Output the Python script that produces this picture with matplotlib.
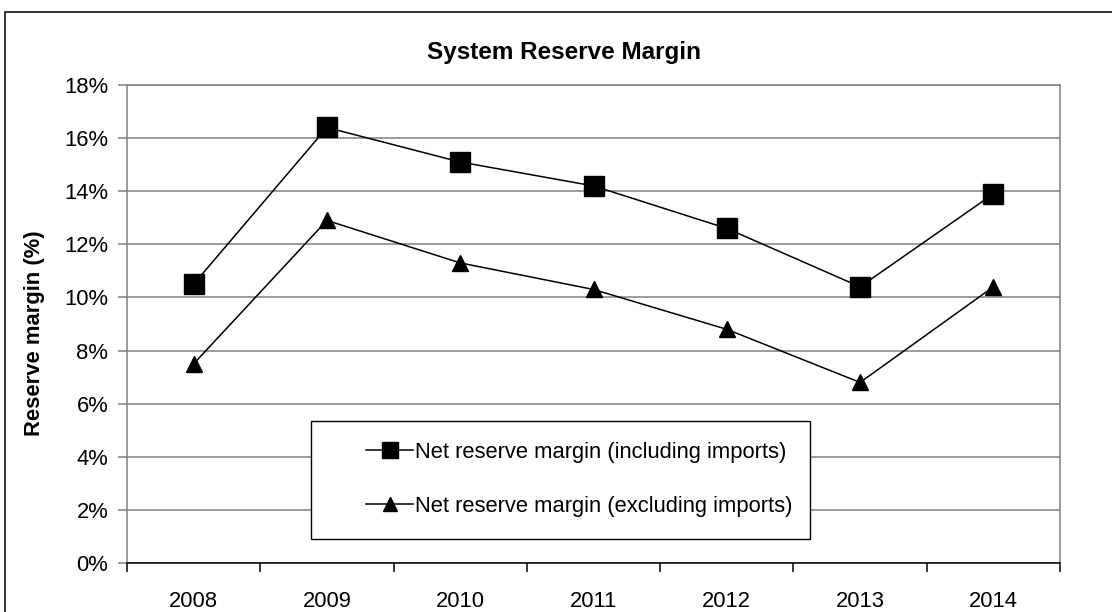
import matplotlib
matplotlib.use("Agg")
import matplotlib.pyplot as plt
import matplotlib.patches as patches
from matplotlib.lines import Line2D
from matplotlib.ticker import FixedLocator, FuncFormatter

plt.rcParams['font.family'] = ['Liberation Sans', 'DejaVu Sans']

# Reserve margin data (%)
years = ['2008', '2009', '2010', '2011', '2012', '2013', '2014']
incl_imports = [10.5, 16.4, 15.1, 14.2, 12.6, 10.4, 13.9]
excl_imports = [7.5, 12.9, 11.3, 10.3, 8.8, 6.8, 10.4]
labels = ['Net reserve margin (including imports)',
          'Net reserve margin (excluding imports)']

W, H = 1112, 612
FS = 15.8
grid_grey = '#808080'

fig = plt.figure(figsize=(W / 100, H / 100), dpi=100)
fig.patch.set_facecolor('white')

# chart-area border (runs off the right and bottom edges)
fig.patches.append(patches.Rectangle((5 / W, -0.1), 1.2, 1 - 12 / H + 0.1,
                                     transform=fig.transFigure, fill=False,
                                     edgecolor='#111111', linewidth=1.2))

ax = fig.add_axes([127 / W, 1 - 563 / H, 933 / W, 478 / H])
x = list(range(len(years)))

ax.plot(x, incl_imports, color='black', linewidth=1.1, marker='s',
        markersize=15, zorder=4, clip_on=False)
ax.plot(x, excl_imports, color='black', linewidth=1.1, marker='^',
        markersize=12, zorder=4, clip_on=False)

ax.set_xlim(-0.5, len(years) - 0.5)
ax.set_ylim(0, 18)

# category boundaries carry the ticks, labels sit in the middle
ax.xaxis.set_major_locator(FixedLocator([i - 0.5 for i in range(len(years) + 1)]))
ax.set_xticklabels([])
ax.set_xticks(x, minor=True)
ax.set_xticklabels(years, minor=True, fontsize=FS)
ax.tick_params(axis='x', which='major', length=6.5, width=1.1, color='black', direction='out')
ax.tick_params(axis='x', which='minor', length=0, pad=20)

ax.set_yticks(range(0, 19, 2))
ax.yaxis.set_major_formatter(FuncFormatter(lambda v, p: f'{v:.0f}%'))
ax.tick_params(axis='y', length=6.5, width=1.1, color=grid_grey, pad=7, labelsize=FS)

ax.yaxis.grid(True, color=grid_grey, linewidth=1.1)
ax.set_axisbelow(True)
for side in ['top', 'right', 'left']:
    ax.spines[side].set_color(grid_grey)
    ax.spines[side].set_linewidth(1.1)
ax.spines['bottom'].set_color('black')
ax.spines['bottom'].set_linewidth(1.1)

fig.text(564 / W, 1 - 52 / H, 'System Reserve Margin', ha='center', va='center',
         fontsize=17.5, fontweight='bold')
fig.text(35 / W, 1 - 333 / H, 'Reserve margin (%)', ha='center', va='center',
         rotation=90, fontsize=FS, fontweight='bold')

# legend box
fig.patches.append(patches.Rectangle((311 / W, 1 - 539 / H), (810 - 311) / W, (539 - 421) / H,
                                     transform=fig.transFigure, facecolor='white',
                                     edgecolor='black', linewidth=1.0, zorder=5))
handles = [Line2D([], [], color='black', linewidth=1.1, marker='s', markersize=12),
           Line2D([], [], color='black', linewidth=1.1, marker='^', markersize=10)]
leg = fig.legend(handles, labels, loc='center left',
                 bbox_to_anchor=(366 / W, 1 - 479.5 / H), frameon=False,
                 fontsize=FS, borderpad=0, borderaxespad=0, handlelength=2.15,
                 handletextpad=0.1, labelspacing=1.5)
leg.set_zorder(6)

fig.savefig('out.png', dpi=100, facecolor='white')
